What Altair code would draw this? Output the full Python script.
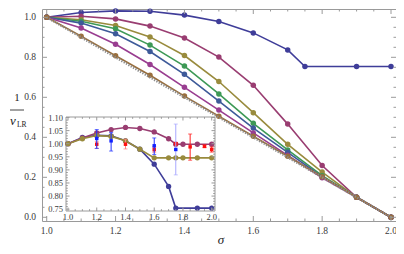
import altair as alt
import pandas as pd

# ---------------- main plot data ----------------
sigma = [1.0, 1.1, 1.2, 1.3, 1.4, 1.5, 1.6, 1.7, 1.8, 1.9, 2.0]
s1_x = [1.0, 1.1, 1.2, 1.3, 1.4, 1.5, 1.6, 1.7, 1.75, 1.9, 2.0]
s1_y = [1.0, 1.024, 1.032, 1.030, 1.011, 0.979, 0.922, 0.837, 0.754, 0.754, 0.754]
s2_y = [1.0, 1.005, 0.992, 0.956, 0.896, 0.801, 0.660, 0.466, 0.259, 0.100, 0.0]
s3_y = [1.0, 0.988, 0.959, 0.902, 0.809, 0.679, 0.523, 0.365, 0.226, 0.100, 0.0]
s4_y = [1.0, 0.980, 0.943, 0.861, 0.756, 0.617, 0.470, 0.337, 0.208, 0.100, 0.0]
s5_y = [1.0, 0.971, 0.918, 0.829, 0.715, 0.581, 0.446, 0.325, 0.202, 0.100, 0.0]
s6_y = [1.0, 0.946, 0.865, 0.764, 0.650, 0.536, 0.422, 0.310, 0.198, 0.100, 0.0]
s7_y = [1.0, 0.905, 0.808, 0.710, 0.606, 0.505, 0.405, 0.305, 0.203, 0.100, 0.0]
diag_x = [1.0, 2.0]
diag_y = [1.0, 0.0]

series_names = ["s1", "s2", "s3", "s4", "s5", "s6", "s7"]
series_colors = ["#3F3D99", "#993D71", "#998B3D", "#3D9956", "#3D5A99", "#993D90", "#996F3D"]

# ---------------- inset data ----------------
in_x = [1.0, 1.1, 1.2, 1.3, 1.4, 1.5, 1.6, 1.7, 1.75, 1.8, 1.9, 2.0]
in_mag_y = [1.0, 1.022, 1.041, 1.054, 1.062, 1.058, 1.045, 1.019, 0.998, 0.998, 0.998, 0.998]
in_gold_y = [1.0, 1.019, 1.031, 1.028, 1.011, 0.979, 0.946, 0.946, 0.946, 0.946, 0.946, 0.946]

blue_x = [1.2, 1.3, 1.6, 1.75]
blue_y = [1.020, 1.011, 0.992, 0.978]
blue_lo = [0.982, 0.972, 0.959, 0.881]
blue_hi = [1.054, 1.043, 1.022, 1.075]
blue_col = ["#2030FF", "#2030FF", "#2030FF", "#A8A8FF"]

red_x = [1.2, 1.4, 1.6, 1.75, 1.85, 1.95, 2.0]
red_y = [0.998, 0.998, 0.978, 1.000, 0.988, 0.990, 0.978]
red_lo = [0.982, 0.980, 0.968, 0.995, 0.937, 0.985, 0.968]
red_hi = [1.008, 1.017, 0.988, 1.005, 1.037, 0.995, 0.988]
red_col = ["#FF8080", "#FF8080", "#FF5050", "#FF2020", "#FF2020", "#FF2020", "#FF2020"]

# ---------------- ticks / tick labels ----------------
x_major = [1.0, 1.2, 1.4, 1.6, 1.8, 2.0]
x_minor = [1.05, 1.1, 1.15, 1.25, 1.3, 1.35, 1.45, 1.5, 1.55, 1.65, 1.7, 1.75, 1.85, 1.9, 1.95]
y_major = [0.0, 0.2, 0.4, 0.6, 0.8, 1.0]
y_minor = [0.05, 0.1, 0.15, 0.25, 0.3, 0.35, 0.45, 0.5, 0.55, 0.65, 0.7, 0.75, 0.85, 0.9, 0.95]
in_y_major = [0.75, 0.80, 0.85, 0.90, 0.95, 1.00, 1.05, 1.10]
in_y_minor = [round(0.75 + 0.01 * i, 2) for i in range(36) if i % 5]

# ---------------- geometry ----------------
W, H = 354, 212
IX0, IX1, IY0, IY1 = 24, 173, 108, 202   # inset frame inside the view (px)
FONT = "Liberation Serif"
FRAME = "#9a9a9a"
LAB = "#3a3a3a"

XS = alt.Scale(domain=[0.9863, 2.0145], nice=False, zero=False)
YS = alt.Scale(domain=[-0.0185, 1.0415], nice=False, zero=False)
IXS = alt.Scale(domain=[0.986, 2.023], range=[IX0, IX1], nice=False, zero=False)
IYS = alt.Scale(domain=[0.743, 1.102], range=[IY1, IY0], nice=False, zero=False)

one = pd.DataFrame({"a": [0]})


def tick_layers(xvals, yvals, xs, ys, x0, x1, y0, y1, L):
    out = []
    dx = pd.DataFrame({"t": xvals})
    dy = pd.DataFrame({"t": yvals})
    out.append(alt.Chart(dx).mark_rule(color=FRAME, strokeWidth=1).encode(
        x=alt.X("t:Q", scale=xs, axis=None), y=alt.value(y1 - L), y2=alt.value(y1)))
    out.append(alt.Chart(dx).mark_rule(color=FRAME, strokeWidth=1).encode(
        x=alt.X("t:Q", scale=xs, axis=None), y=alt.value(y0), y2=alt.value(y0 + L)))
    out.append(alt.Chart(dy).mark_rule(color=FRAME, strokeWidth=1).encode(
        y=alt.Y("t:Q", scale=ys, axis=None), x=alt.value(x0), x2=alt.value(x0 + L)))
    out.append(alt.Chart(dy).mark_rule(color=FRAME, strokeWidth=1).encode(
        y=alt.Y("t:Q", scale=ys, axis=None), x=alt.value(x1 - L), x2=alt.value(x1)))
    return out


def label_layers(xvals, yvals, xs, ys, xfmt, yfmt, xpos, ypos, fs):
    lx = alt.Chart(pd.DataFrame({"t": xvals})).mark_text(
        font=FONT, fontSize=fs, color=LAB, align="center", baseline="top"
    ).encode(x=alt.X("t:Q", scale=xs, axis=None), y=alt.value(ypos),
             text=alt.Text("t:Q", format=xfmt))
    ly = alt.Chart(pd.DataFrame({"t": yvals})).mark_text(
        font=FONT, fontSize=fs, color=LAB, align="right", baseline="middle"
    ).encode(y=alt.Y("t:Q", scale=ys, axis=None), x=alt.value(xpos),
             text=alt.Text("t:Q", format=yfmt))
    return [lx, ly]


# ---------------- main layer ----------------
rows = []
all_y = [s1_y, s2_y, s3_y, s4_y, s5_y, s6_y, s7_y]
for k, (name, ys_) in enumerate(zip(series_names, all_y)):
    xs_ = s1_x if name == "s1" else sigma
    for xv, yv in zip(xs_, ys_):
        rows.append({"s": name, "x": xv, "y": yv, "k": k})
df_main = pd.DataFrame(rows)

lines = alt.Chart(df_main).mark_line(
    strokeWidth=1.6, point=alt.OverlayMarkDef(filled=True, size=30, opacity=1)
).encode(
    x=alt.X("x:Q", scale=XS, axis=None),
    y=alt.Y("y:Q", scale=YS, axis=None),
    color=alt.Color("s:N", scale=alt.Scale(domain=series_names, range=series_colors), legend=None),
    order=alt.Order("x:Q"),
)

diag = alt.Chart(pd.DataFrame({"x": diag_x, "y": diag_y})).mark_line(
    color="#8c8c8c", strokeDash=[1.3, 1.4], strokeWidth=2.4
).encode(x=alt.X("x:Q", scale=XS, axis=None), y=alt.Y("y:Q", scale=YS, axis=None))

main_ticks = (tick_layers(x_major, y_major, XS, YS, 0, W, 0, H, 5)
              + tick_layers(x_minor, y_minor, XS, YS, 0, W, 0, H, 2.5))
main_labels = label_layers(x_major, y_major, XS, YS, ".1f", ".1f", -6, H + 5, 9.5)

txt_one = alt.Chart(pd.DataFrame({"t": ["1"]})).mark_text(
    font=FONT, fontSize=11, color="#222", align="center", baseline="middle"
).encode(text="t:N", x=alt.value(-25), y=alt.value(89))
bar = alt.Chart(one).mark_rule(color="#444", strokeWidth=1).encode(
    x=alt.value(-32), x2=alt.value(-18), y=alt.value(101))
txt_nu = alt.Chart(pd.DataFrame({"t": ["ν"]})).mark_text(
    font=FONT, fontSize=13, fontStyle="italic", color="#222", align="left", baseline="middle"
).encode(text="t:N", x=alt.value(-32), y=alt.value(112))
txt_lr = alt.Chart(pd.DataFrame({"t": ["LR"]})).mark_text(
    font=FONT, fontSize=7.5, color="#222", align="left", baseline="middle"
).encode(text="t:N", x=alt.value(-25), y=alt.value(116))
txt_sigma = alt.Chart(pd.DataFrame({"t": ["σ"]})).mark_text(
    font=FONT, fontSize=13, fontStyle="italic", color="#222", align="center", baseline="middle"
).encode(text="t:N", x=alt.value(179), y=alt.value(231))

main = alt.layer(lines, diag, *main_ticks, *main_labels, txt_one, bar, txt_nu, txt_lr, txt_sigma)

# ---------------- inset layer ----------------
irows = []
for xv, yv in zip(s1_x, s1_y):
    irows.append({"s": "a", "x": xv, "y": yv})
for xv, yv in zip(in_x, in_mag_y):
    irows.append({"s": "b", "x": xv, "y": yv})
for xv, yv in zip(in_x, in_gold_y):
    irows.append({"s": "c", "x": xv, "y": yv})
df_in = pd.DataFrame(irows)

in_bg = alt.Chart(one).mark_rect(fill="white", stroke=FRAME, strokeWidth=1).encode(
    x=alt.value(IX0), x2=alt.value(IX1), y=alt.value(IY0), y2=alt.value(IY1))

in_lines = alt.Chart(df_in).mark_line(
    strokeWidth=1.6, point=alt.OverlayMarkDef(filled=True, size=28, opacity=1)
).encode(
    x=alt.X("x:Q", scale=IXS, axis=None),
    y=alt.Y("y:Q", scale=IYS, axis=None),
    color=alt.Color("s:N", scale=alt.Scale(domain=["a", "b", "c"],
                                           range=["#3F3D99", "#993D71", "#998B3D"]), legend=None),
    order=alt.Order("x:Q"),
)

in_ticks = (tick_layers(x_major, in_y_major, IXS, IYS, IX0, IX1, IY0, IY1, 3.5)
            + tick_layers(x_minor, in_y_minor, IXS, IYS, IX0, IX1, IY0, IY1, 1.8))
in_labels = label_layers(x_major, in_y_major, IXS, IYS, ".1f", ".2f", IX0 - 3, IY1 + 2, 8.5)

df_red = pd.DataFrame({"x": red_x, "y": red_y, "lo": red_lo, "hi": red_hi, "c": red_col})
df_blue = pd.DataFrame({"x": blue_x, "y": blue_y, "lo": blue_lo, "hi": blue_hi, "c": blue_col})


def err_layers(df, pcol):
    base = alt.Chart(df)
    X = alt.X("x:Q", scale=IXS, axis=None)
    return [
        base.mark_rule(strokeWidth=1).encode(
            x=X, y=alt.Y("lo:Q", scale=IYS, axis=None), y2="hi:Q",
            color=alt.Color("c:N", scale=None)),
        base.mark_tick(orient="horizontal", size=4, thickness=1).encode(
            x=X, y=alt.Y("lo:Q", scale=IYS, axis=None), color=alt.Color("c:N", scale=None)),
        base.mark_tick(orient="horizontal", size=4, thickness=1).encode(
            x=X, y=alt.Y("hi:Q", scale=IYS, axis=None), color=alt.Color("c:N", scale=None)),
        base.mark_square(size=12, filled=True, opacity=1, color=pcol).encode(
            x=X, y=alt.Y("y:Q", scale=IYS, axis=None)),
    ]


inset = alt.layer(in_bg, in_lines, *in_ticks, *in_labels, *err_layers(df_red, "#FF1010"),
                  *err_layers(df_blue, "#1020FF"))

chart = alt.layer(main, inset).resolve_scale(
    x="independent", y="independent", color="independent"
).properties(
    width=W, height=H,
    background="white",
    autosize=alt.AutoSizeParams(type="none"),
    padding={"left": 34, "top": 1, "right": 0, "bottom": 25},
).configure_view(stroke=FRAME, strokeWidth=1)

chart.save("out.html", embed_options={"renderer": "svg", "actions": False})
